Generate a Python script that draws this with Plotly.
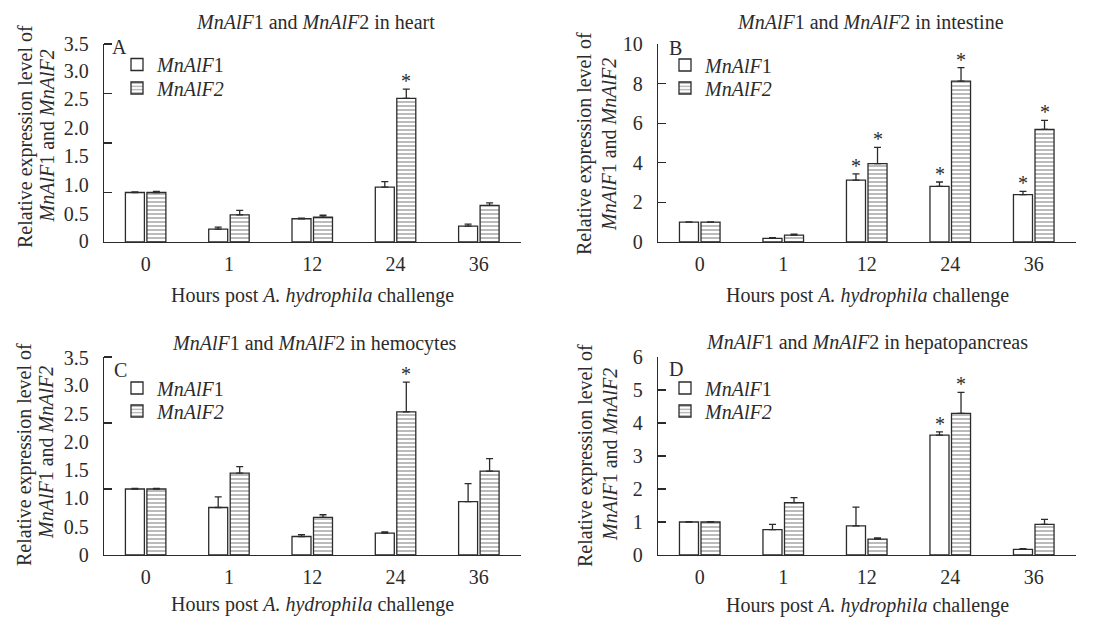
import plotly.graph_objects as go

# ---------------- data ----------------
hours = ["0", "1", "12", "24", "36"]

heart_f1 = [1.00, 0.26, 0.47, 1.11, 0.32]
heart_f1_err = [0.01, 0.04, 0.01, 0.11, 0.04]
heart_f2 = [1.00, 0.55, 0.50, 2.90, 0.74]
heart_f2_err = [0.02, 0.09, 0.04, 0.19, 0.05]
heart_star_f1 = [False, False, False, False, False]
heart_star_f2 = [False, False, False, True, False]

intestine_f1 = [1.00, 0.18, 3.13, 2.81, 2.39]
intestine_f1_err = [0.01, 0.04, 0.31, 0.22, 0.17]
intestine_f2 = [1.00, 0.35, 3.96, 8.13, 5.69]
intestine_f2_err = [0.01, 0.05, 0.82, 0.68, 0.45]
intestine_star_f1 = [False, False, True, True, True]
intestine_star_f2 = [False, False, True, True, True]

hemocytes_f1 = [1.00, 0.72, 0.28, 0.33, 0.81]
hemocytes_f1_err = [0.01, 0.16, 0.03, 0.02, 0.27]
hemocytes_f2 = [1.00, 1.24, 0.57, 2.17, 1.27]
hemocytes_f2_err = [0.01, 0.10, 0.04, 0.45, 0.19]
hemocytes_star_f1 = [False, False, False, False, False]
hemocytes_star_f2 = [False, False, False, True, False]

hepato_f1 = [1.00, 0.77, 0.88, 3.63, 0.17]
hepato_f1_err = [0.01, 0.16, 0.57, 0.10, 0.02]
hepato_f2 = [1.00, 1.59, 0.48, 4.29, 0.93]
hepato_f2_err = [0.01, 0.15, 0.04, 0.64, 0.15]
hepato_star_f1 = [False, False, False, True, False]
hepato_star_f2 = [False, False, False, True, False]

# y tick labels of panels A and C (labels as printed in the figure)
ac_tick_text = ["0", "0.5", "1.0", "1.5", "2.0", "2.5", "3.0", "3.5"]
heart_label_pos = [0.02, 0.57, 1.15, 1.73, 2.31, 2.89, 3.46, 3.99]
heart_tick_marks = [1, 2, 3, 4]
hemocytes_label_pos = [0.0, 0.43, 0.86, 1.29, 1.71, 2.14, 2.57, 2.99]
hemocytes_tick_marks = [1, 2, 3]
intestine_ticks = [0, 2, 4, 6, 8, 10]
hepato_ticks = [0, 1, 2, 3, 4, 5, 6]

series_names = ["<i>MnAlF</i>1", "<i>MnAlF2</i>"]
tissues = ["heart", "intestine", "hemocytes", "hepatopancreas"]
letters = ["A", "B", "C", "D"]
ytitle_lines = ["Relative expression level of", "<i>MnAlF</i>1 and <i>MnAlF2</i>"]

# ---------------- style ----------------
FONT = "Liberation Serif, Times New Roman, Times, serif"
INK = "#2b2b2b"
FS = 20
W, H = 1098, 620


def px_x(v):
    return v / W


def px_y(v):
    return 1 - v / H


panels = [
    dict(f1=heart_f1, e1=heart_f1_err, f2=heart_f2, e2=heart_f2_err,
         s1=heart_star_f1, s2=heart_star_f2, yr=[0, 4],
         xdom=[104, 520.5], ydom=[44, 242],
         tickvals=heart_label_pos, ticktext=ac_tick_text, minor=heart_tick_marks,
         title_xy=(315, 22), xt_xy=(312, 295),
         yt_lines=((25, 137), (46.5, 136)),
         letter_xy=(110, 47), legend_x=117, legend_rows=(64.5, 88)),
    dict(f1=intestine_f1, e1=intestine_f1_err, f2=intestine_f2, e2=intestine_f2_err,
         s1=intestine_star_f1, s2=intestine_star_f2, yr=[0, 10],
         xdom=[658, 1075.5], ydom=[44, 242],
         tickvals=intestine_ticks, ticktext=None, minor=None,
         title_xy=(870, 22), xt_xy=(867, 295),
         yt_lines=((584, 144), (609, 145)),
         letter_xy=(667, 48), legend_x=665, legend_rows=(65, 88)),
    dict(f1=hemocytes_f1, e1=hemocytes_f1_err, f2=hemocytes_f2, e2=hemocytes_f2_err,
         s1=hemocytes_star_f1, s2=hemocytes_star_f2, yr=[0, 3],
         xdom=[104, 520.5], ydom=[357, 555],
         tickvals=hemocytes_label_pos, ticktext=ac_tick_text, minor=hemocytes_tick_marks,
         title_xy=(314, 343), xt_xy=(312, 604),
         yt_lines=((24, 455), (46, 453)),
         letter_xy=(112, 370), legend_x=117, legend_rows=(388, 411)),
    dict(f1=hepato_f1, e1=hepato_f1_err, f2=hepato_f2, e2=hepato_f2_err,
         s1=hepato_star_f1, s2=hepato_star_f2, yr=[0, 6],
         xdom=[658, 1075.5], ydom=[357, 555],
         tickvals=hepato_ticks, ticktext=None, minor=None,
         title_xy=(867, 342), xt_xy=(867, 605),
         yt_lines=((585, 456), (610, 455)),
         letter_xy=(667, 369), legend_x=665, legend_rows=(388, 411)),
]

fig = go.Figure()
annotations = []
layout_upd = {}
BAR_SHIFT = 10.75  # px from category centre to each bar centre
legend_no = 0

for i, p in enumerate(panels):
    sfx = "" if i == 0 else str(i + 1)
    xa, ya = "x" + sfx, "y" + sfx
    for k, (vals, errs) in enumerate([(p["f1"], p["e1"]), (p["f2"], p["e2"])]):
        legend_no += 1
        leg = "legend" if legend_no == 1 else f"legend{legend_no}"
        marker = dict(color="white", line=dict(color=INK, width=1.3))
        if k == 1:
            marker["pattern"] = dict(shape="-", size=4, solidity=0.35,
                                     fgcolor="#3c3c3c", bgcolor="white")
        fig.add_trace(go.Bar(
            x=hours, y=vals, name=series_names[k], xaxis=xa, yaxis=ya,
            legend=leg, marker=marker, offsetgroup=str(k),
            error_y=dict(type="data", array=errs, arrayminus=[0] * len(errs),
                         symmetric=False, color=INK, thickness=1.3, width=3.5),
            hoverinfo="skip",
        ))
        layout_upd[leg] = dict(
            x=px_x(p["legend_x"]), y=px_y(p["legend_rows"][k]),
            xanchor="left", yanchor="middle", bgcolor="rgba(0,0,0,0)",
            font=dict(family=FONT, size=FS, color=INK), tracegroupgap=0,
            itemclick=False, itemdoubleclick=False)
    # significance stars
    for k, (vals, errs, stars) in enumerate([(p["f1"], p["e1"], p["s1"]),
                                             (p["f2"], p["e2"], p["s2"])]):
        for idx, (v, e, s) in enumerate(zip(vals, errs, stars)):
            if s:
                annotations.append(dict(
                    x=idx, y=v + e, xref=xa, yref=ya, text="*", showarrow=False,
                    xshift=(-BAR_SHIFT if k == 0 else BAR_SHIFT), yshift=-5,
                    yanchor="bottom", xanchor="center",
                    font=dict(family=FONT, size=FS, color=INK)))

    yax = dict(domain=[px_y(p["ydom"][1]), px_y(p["ydom"][0])], range=p["yr"],
               anchor=xa, showline=True, linecolor=INK, linewidth=1.3,
               showgrid=False, zeroline=False, automargin=False,
               tickfont=dict(family=FONT, size=FS, color=INK),
               ticklabelstandoff=10, fixedrange=True)
    if p["ticktext"] is not None:
        yax.update(tickmode="array", tickvals=p["tickvals"], ticktext=p["ticktext"],
                   ticks="",
                   minor=dict(tickmode="array", tickvals=p["minor"], ticks="inside",
                              ticklen=8, tickwidth=1.3, tickcolor=INK))
    else:
        yax.update(tickmode="array", tickvals=p["tickvals"], ticks="inside",
                   ticklen=8, tickwidth=1.3, tickcolor=INK)
    layout_upd["xaxis" + sfx] = dict(
        domain=[px_x(p["xdom"][0]), px_x(p["xdom"][1])], range=[-0.5, 4.5],
        anchor=ya, type="category", showline=True, linecolor=INK,
        linewidth=1.3, ticks="", showgrid=False, zeroline=False,
        automargin=False, ticklabelstandoff=4, fixedrange=True,
        tickfont=dict(family=FONT, size=FS, color=INK))
    layout_upd["yaxis" + sfx] = yax

    tissue = tissues[i]
    annotations.append(dict(
        x=px_x(p["title_xy"][0]), y=px_y(p["title_xy"][1]), xref="paper", yref="paper",
        text=f"<i>MnAlF</i>1 and <i>MnAlF</i>2 in {tissue}", showarrow=False,
        xanchor="center", yanchor="middle", font=dict(family=FONT, size=FS, color=INK)))
    annotations.append(dict(
        x=px_x(p["xt_xy"][0]), y=px_y(p["xt_xy"][1]), xref="paper", yref="paper",
        text="Hours post <i>A. hydrophila</i> challenge", showarrow=False,
        xanchor="center", yanchor="middle", font=dict(family=FONT, size=FS, color=INK)))
    for line_text, (lx, ly) in zip(ytitle_lines, p["yt_lines"]):
        annotations.append(dict(
            x=px_x(lx), y=px_y(ly), xref="paper", yref="paper",
            text=line_text, textangle=-90, showarrow=False,
            xanchor="center", yanchor="middle",
            font=dict(family=FONT, size=FS, color=INK)))
    annotations.append(dict(
        x=px_x(p["letter_xy"][0]), y=px_y(p["letter_xy"][1]), xref="paper", yref="paper",
        text=letters[i], showarrow=False, xanchor="left", yanchor="middle",
        font=dict(family=FONT, size=FS, color=INK)))

fig.update_layout(layout_upd)
fig.update_layout(
    width=W, height=H, margin=dict(l=0, r=0, t=0, b=0),
    paper_bgcolor="white", plot_bgcolor="white",
    barmode="group", bargap=0.484, bargroupgap=0.116,
    font=dict(family=FONT, size=FS, color=INK),
    annotations=annotations, showlegend=True,
)

fig.write_html("out.html",
               config={"displayModeBar": False, "staticPlot": True},
               post_script="document.body.style.margin='0px';"
                           "document.body.style.overflow='hidden';")
